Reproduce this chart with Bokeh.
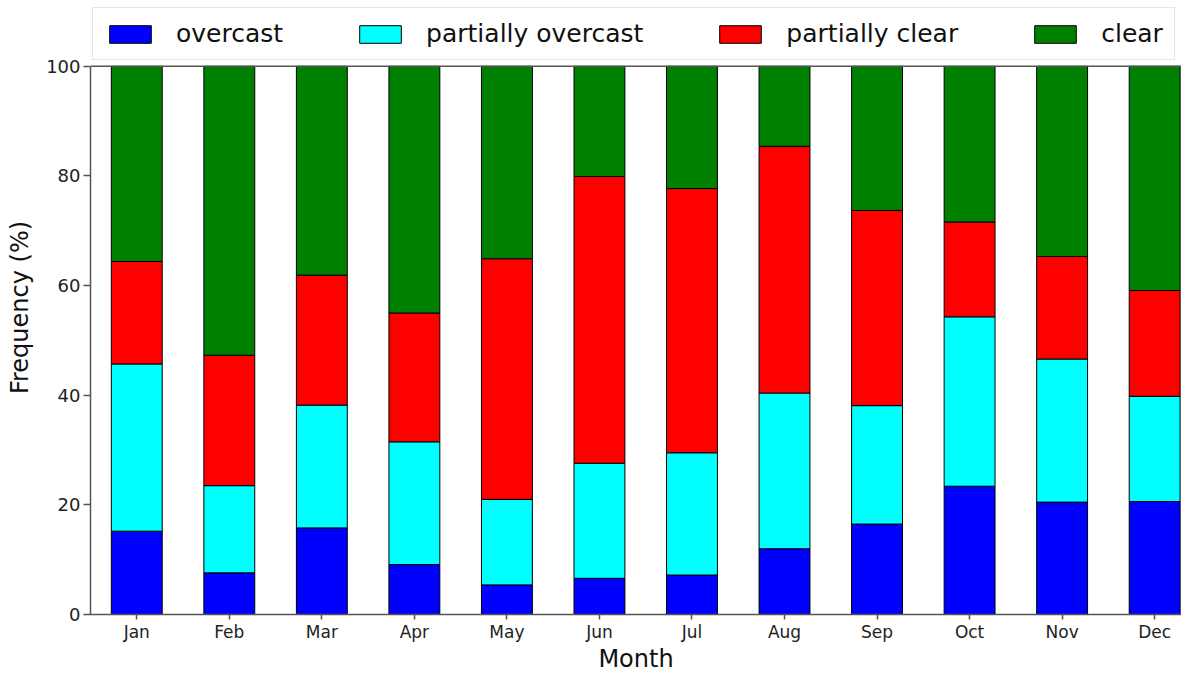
from bokeh.plotting import figure
from bokeh.models import (ColumnDataSource, FixedTicker, Legend, LegendItem, Span)
from bokeh.embed import file_html
from bokeh.resources import INLINE

months = ["Jan", "Feb", "Mar", "Apr", "May", "Jun", "Jul", "Aug", "Sep", "Oct", "Nov", "Dec"]
categories = ["overcast", "partially overcast", "partially clear", "clear"]

overcast = [15.2, 7.6, 15.8, 9.1, 5.4, 6.6, 7.2, 12.0, 16.5, 23.4, 20.5, 20.6]
partially_overcast = [30.5, 15.9, 22.4, 22.4, 15.6, 21.0, 22.3, 28.4, 21.6, 30.9, 26.1, 19.2]
partially_clear = [18.7, 23.8, 23.7, 23.5, 43.9, 52.3, 48.2, 45.0, 35.6, 17.3, 18.7, 19.3]
clear = [35.6, 52.7, 38.1, 45.0, 35.1, 20.1, 22.3, 14.6, 26.3, 28.4, 34.7, 40.9]

colors = ["#0000ff", "#00ffff", "#ff0000", "#008000"]
y_ticks = [0, 20, 40, 60, 80, 100]

source = ColumnDataSource(dict(
    x=list(range(len(months))),
    overcast=overcast,
    partially_overcast=partially_overcast,
    partially_clear=partially_clear,
    clear=clear,
))

W, H = 1181, 675
BORDER_BOTTOM = 61
FRAME_H = H - BORDER_BOTTOM

p = figure(width=W, height=H, output_backend="svg", toolbar_location=None,
           x_range=(-0.5, 11.29), y_range=(0, 112.0),
           min_border_left=90, min_border_right=0, min_border_top=0,
           min_border_bottom=BORDER_BOTTOM)

renderers = p.vbar_stack(["overcast", "partially_overcast", "partially_clear", "clear"],
                         x="x", width=0.55, source=source, color=colors,
                         line_color="black", line_width=1)

p.outline_line_color = None
p.xgrid.grid_line_color = None
p.ygrid.grid_line_color = None
p.background_fill_color = "white"
p.border_fill_color = "white"

axis_col = "#555555"
for ax in (p.xaxis[0], p.yaxis[0]):
    ax.axis_line_color = axis_col
    ax.axis_line_width = 1.5
    ax.major_tick_line_color = axis_col
    ax.major_tick_line_width = 1.5
    ax.major_tick_in = 0
    ax.minor_tick_line_color = None
    ax.major_label_text_font = "DejaVu Sans"
    ax.major_label_text_color = "#222222"
    ax.axis_label_text_font = "DejaVu Sans"
    ax.axis_label_text_font_style = "normal"
    ax.axis_label_text_color = "#111111"
    ax.axis_label_text_font_size = "24px"

p.xaxis.ticker = FixedTicker(ticks=list(range(len(months))))
p.xaxis.major_label_overrides = {i: m for i, m in enumerate(months)}
p.xaxis.major_tick_out = 5
p.xaxis.major_label_standoff = 2
p.xaxis.major_label_text_font_size = "17px"
p.xaxis.axis_label = "Month"
p.xaxis.axis_label_standoff = 0

p.yaxis.ticker = FixedTicker(ticks=y_ticks)
p.yaxis.bounds = (0, 100)
p.yaxis.major_tick_out = 7
p.yaxis.major_label_standoff = 3
p.yaxis.major_label_text_font_size = "18px"
p.yaxis.axis_label = "Frequency (%)"
p.yaxis.axis_label_standoff = 9

top = Span(location=100, dimension="width", line_color=axis_col, line_width=1.5)
p.add_layout(top)

legend = Legend(items=[LegendItem(label=c, renderers=[r]) for c, r in zip(categories, renderers)],
                orientation="horizontal", location=(2, FRAME_H - 60),
                label_text_font="DejaVu Sans", label_text_font_size="25px",
                label_text_color="#111111",
                glyph_width=52, glyph_height=22, label_standoff=20, spacing=71,
                padding=11, margin=0,
                border_line_color="#cccccc", border_line_width=1,
                background_fill_color="white", background_fill_alpha=1.0)
p.add_layout(legend, "center")

open("out.html", "w").write(file_html(p, INLINE))
